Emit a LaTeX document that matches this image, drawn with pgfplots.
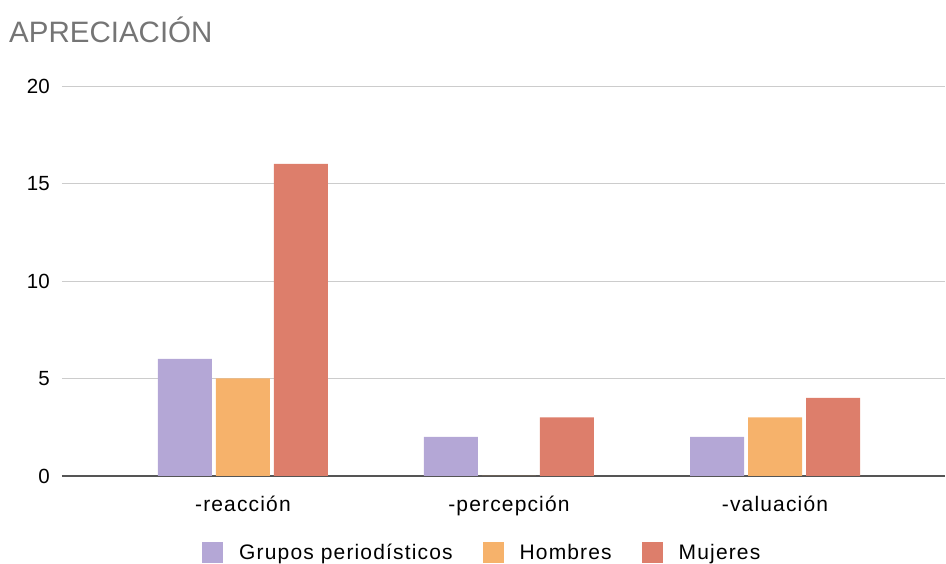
\documentclass[border=0pt]{standalone}
\usepackage{fontspec}
\setmainfont{Liberation Sans}
\newfontfamily\lsp[LetterSpace=5.5]{Liberation Sans}
\usepackage{pgfplots}
\pgfplotsset{compat=1.18}
\definecolor{cpur}{HTML}{B4A7D6}
\definecolor{cora}{HTML}{F6B26B}
\definecolor{cred}{HTML}{DD7E6B}
\definecolor{ctit}{HTML}{757575}
\definecolor{cgrid}{HTML}{CCCCCC}
\definecolor{czero}{HTML}{555555}
\begin{document}
\begin{tikzpicture}[x=1pt,y=1pt]
\useasboundingbox (0,0) rectangle (946,564);
\node[anchor=base west, inner sep=0pt, text=ctit, font=\fontsize{29.5}{32}\selectfont] at (9,521) {APRECIACIÓN};
\begin{axis}[
  at={(62pt,88pt)}, anchor=south west,
  scale only axis, width=883pt, height=390pt,
  ybar=4pt, bar width=54pt,
  xmin=-0.68, xmax=2.639,
  ymin=0, ymax=20,
  ytick={5,10,15,20},
  extra y ticks={0},
  extra y tick style={grid style={draw=czero, line width=1.2pt}},
  ymajorgrids, grid style={draw=cgrid, line width=0.9pt},
  xtick={0,1,2},
  xticklabels={-reacción,-percepción,-valuación},
  major tick length=0pt,
  axis line style={draw=none},
  /pgf/number format/assume math mode=true,
  yticklabel style={font=\fontsize{20.5}{22}\selectfont, anchor=east, inner sep=0pt, xshift=-12pt},
  xticklabel style={font=\lsp\fontsize{21}{23}\selectfont, anchor=north, inner sep=0pt, yshift=-20pt},
  legend style={at={(axis description cs:0.476,-0.197)}, anchor=center, draw=none, fill=none,
    legend columns=3, font=\lsp\fontsize{21}{23}\selectfont,
    /tikz/every odd column/.append style={column sep=14pt},
    /tikz/every even column/.append style={column sep=28pt}},
  legend cell align=left,
  legend image code/.code={\fill[#1] (0pt,-10.5pt) rectangle (21pt,10.5pt);},
]
\addplot[fill=cpur, draw=none] coordinates {(0,6) (1,2) (2,2)};
\addplot[fill=cora, draw=none] coordinates {(0,5) (1,0) (2,3)};
\addplot[fill=cred, draw=none] coordinates {(0,16) (1,3) (2,4)};
\legend{Grupos periodísticos, Hombres, Mujeres}
\end{axis}
\end{tikzpicture}
\end{document}
